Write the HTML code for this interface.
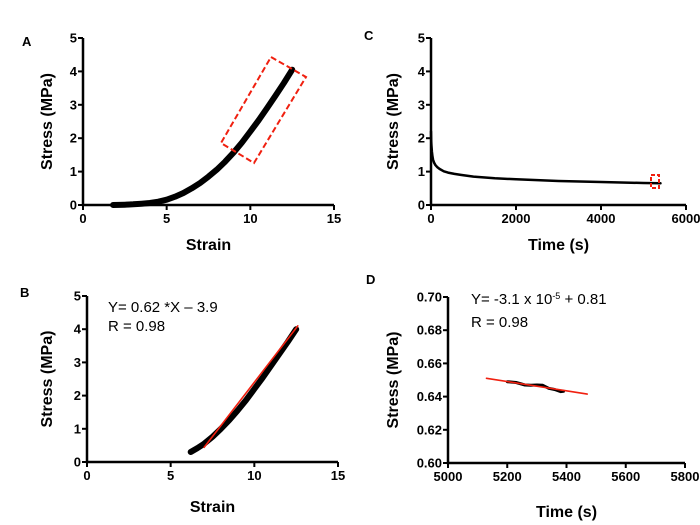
<!DOCTYPE html>
<html><head><meta charset="utf-8"><style>
body{margin:0;background:#fff;}
svg{display:block;font-family:"Liberation Sans",Arial,sans-serif;}
.t{font-size:13px;font-weight:bold;fill:#000;}
.lab{font-size:16px;font-weight:bold;fill:#000;}
.eq{font-size:15px;fill:#000;}
</style></head><body>
<svg id="fig" width="700" height="525" viewBox="0 0 700 525">
<g id="root"></g>
</svg>
<script>
// Panel A data
const aStrain=[1.8,2.5,3,3.5,4,4.5,5,5.5,6,6.5,7,7.5,8,8.5,9,9.5,10,10.5,11,11.5,12,12.5];
const aStress=[0,0.01,0.02,0.04,0.06,0.1,0.16,0.25,0.36,0.5,0.66,0.85,1.06,1.3,1.57,1.87,2.2,2.54,2.9,3.27,3.65,4.05];
// Panel B data
const bStrain=[6.2,6.6,7,7.5,8,8.5,9,9.5,10,10.5,11,11.5,12,12.5];
const bStress=[0.3,0.42,0.55,0.76,1.0,1.26,1.55,1.86,2.2,2.54,2.9,3.26,3.62,4.0];
const bFitX=[7,12.6];
const bFitY=[0.44,4.1];
// Panel C data
const cTime=[0,5,10,20,35,50,75,100,150,200,300,400,550,700,1000,1500,2000,3000,4000,5000,5400];
const cStress=[2.2,1.95,1.8,1.6,1.45,1.35,1.26,1.2,1.13,1.08,1.01,0.97,0.93,0.9,0.85,0.8,0.77,0.72,0.69,0.66,0.65];
// Panel D data
const dTime=[5200,5230,5260,5280,5300,5320,5340,5360,5380,5390];
const dStress=[0.649,0.6485,0.647,0.6468,0.647,0.6468,0.645,0.6443,0.643,0.6432];
const dFitX=[5130,5470];
const dFitY=[0.651,0.6415];
// tick labels
const tickA_X=[0,5,10,15], tickA_Y=[0,1,2,3,4,5];
const tickC_X=[0,2000,4000,6000];
const tickD_X=[5000,5200,5400,5600,5800], tickD_Y=["0.60","0.62","0.64","0.66","0.68","0.70"];

const NS="http://www.w3.org/2000/svg";
const root=document.getElementById('root');
function mk(tag,attrs,parent){const e=document.createElementNS(NS,tag);for(const k in attrs)e.setAttribute(k,attrs[k]);(parent||root).appendChild(e);return e;}
function axesFn(x0,x1,px0,px1,y0,y1,py0,py1){return{x:v=>px0+(v-x0)/(x1-x0)*(px1-px0),y:v=>py0+(v-y0)/(y1-y0)*(py1-py0)};}
function panel(name,s,xt,yt,ylabels,px0,px1,py0,py1,xlab,xlabY,ylabX,letter,lx,ly){
  const g=mk('g',{});
  
  
  const ax=mk('path',{d:`M${px0} ${py1}V${py0}H${px1}`,stroke:'#000','stroke-width':2.5,fill:'none'},g);
  
  
  xt.forEach(v=>{const X=s.x(v);mk('line',{x1:X,x2:X,y1:py0,y2:py0+5,stroke:'#000','stroke-width':2},g);
    const t=mk('text',{x:X,y:py0+18,'text-anchor':'middle',class:'t'},g);t.textContent=v;
    
    });
  yt.forEach((v,i)=>{const Y=s.y(+v);mk('line',{x1:px0-5,x2:px0,y1:Y,y2:Y,stroke:'#000','stroke-width':2},g);
    const t=mk('text',{x:px0-6,y:Y+4.5,'text-anchor':'end',class:'t'},g);t.textContent=ylabels[i];
    
    });
  const xl=mk('text',{x:(px0+px1)/2,y:xlabY,'text-anchor':'middle',class:'lab'},g);xl.textContent=xlab;
  
  
  const cy=(py0+py1)/2;
  const yl=mk('text',{x:ylabX,y:cy,'text-anchor':'middle',class:'lab',transform:`rotate(-90 ${ylabX} ${cy})`},g);yl.textContent='Stress (MPa)';
  
  
  const L=mk('text',{x:lx,y:ly,class:'t','font-size':'13'},g);L.textContent=letter;
  
  
  return g;
}
function line(g,s,xs,ys,col,w,name){
  const d=xs.map((v,i)=>(i?'L':'M')+s.x(v).toFixed(1)+' '+s.y(ys[i]).toFixed(1)).join('');
  const p=mk('path',{d,stroke:col,'stroke-width':w,fill:'none','stroke-linecap':'round','stroke-linejoin':'round'},g);
  
  
}
// A
const sA=axesFn(0,15,83,334,0,5,205,38);
const gA=panel('panel-a',sA,tickA_X,tickA_Y,tickA_Y,83,334,205,38,'Strain',250,52,'A',22,46);
line(gA,sA,aStrain,aStress,'#000',6,'stress-strain-curve');
const rb=mk('polygon',{points:'271,57 306,77 254,163 221,143',fill:'none',stroke:'#f02010','stroke-width':2,'stroke-dasharray':'6,3'},gA);


// B
const sB=axesFn(0,15,87,338,0,5,462,296);
const gB=panel('panel-b',sB,tickA_X,tickA_Y,tickA_Y,87,338,462,296,'Strain',512,52,'B',20,297);
line(gB,sB,bStrain,bStress,'#000',6,'stress-strain-data');
line(gB,sB,bFitX,bFitY,'#f02010',1.6,'linear-fit');
let e=mk('text',{x:108,y:312,class:'eq'},gB);e.textContent='Y= 0.62 *X – 3.9';


e=mk('text',{x:108,y:331,class:'eq'},gB);e.textContent='R = 0.98';


// C
const sC=axesFn(0,6000,431,686,0,5,205,38);
const gC=panel('panel-c',sC,tickC_X,tickA_Y,tickA_Y,431,686,205,38,'Time (s)',250,398,'C',364,40);
line(gC,sC,cTime,cStress,'#000',2.5,'relaxation-curve');
const rc=mk('rect',{x:651,y:175,width:8,height:13,fill:'none',stroke:'#f02010','stroke-width':2,'stroke-dasharray':'4,2'},gC);


// D
const sD=axesFn(5000,5800,448,685,0.6,0.7,463,297);
const gD=panel('panel-d',sD,tickD_X,tickD_Y,tickD_Y,448,685,463,297,'Time (s)',517,398,'D',366,284);
line(gD,sD,dTime,dStress,'#000',3,'relaxation-data');
line(gD,sD,dFitX,dFitY,'#f02010',1.6,'linear-fit');
e=mk('text',{x:471,y:304,class:'eq'},gD);e.innerHTML='Y= -3.1 x 10<tspan dy="-5" font-size="9">-5</tspan><tspan dy="5"> + 0.81</tspan>';


e=mk('text',{x:471,y:327,class:'eq'},gD);e.textContent='R = 0.98';


</script>
</body></html>
